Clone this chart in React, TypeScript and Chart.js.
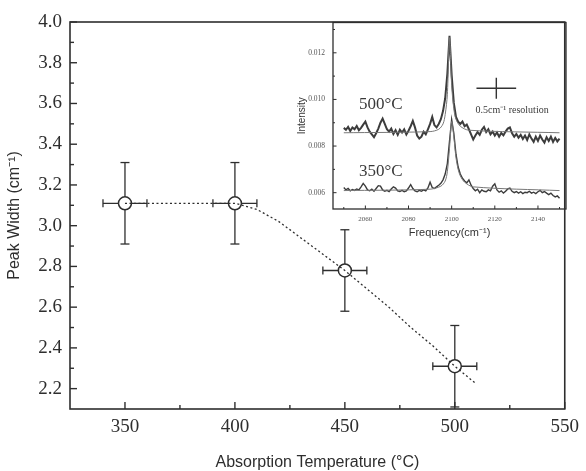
import React, { useEffect, useRef } from "react";
import { Chart, registerables } from "chart.js";

Chart.register(...registerables);

// ---------- main chart data ----------
const temperatures = [350, 400, 450, 500];
const peakWidths = [3.11, 3.11, 2.78, 2.31];
const widthErrors = [0.2, 0.2, 0.2, 0.2];
const temperatureErrors = [10, 10, 10, 10];
const fitTemps = [350, 400, 410, 420, 430, 440, 450, 460, 470, 480, 490, 500, 509];
const fitWidths = [3.11, 3.11, 3.08, 3.02, 2.94, 2.86, 2.78, 2.69, 2.6, 2.5, 2.41, 2.31, 2.23];
const xTickValues = [350, 400, 450, 500, 550];
const xMinorValues = [375, 425, 475, 525];
const yTickValues = [2.2, 2.4, 2.6, 2.8, 3.0, 3.2, 3.4, 3.6, 3.8, 4.0];
const yMinorValues = [2.3, 2.5, 2.7, 2.9, 3.1, 3.3, 3.5, 3.7, 3.9];

// ---------- inset data ----------
const frequencies = [
  2050, 2051, 2052, 2053, 2054, 2055, 2056, 2057, 2058, 2059,
  2060, 2061, 2062, 2063, 2064, 2065, 2066, 2067, 2068, 2069,
  2070, 2071, 2072, 2073, 2074, 2075, 2076, 2077, 2078, 2079,
  2080, 2081, 2082, 2083, 2084, 2085, 2086, 2087, 2088, 2089,
  2090, 2091, 2092, 2093, 2094, 2095, 2096, 2097, 2098, 2099,
  2100, 2101, 2102, 2103, 2104, 2105, 2106, 2107, 2108, 2109,
  2110, 2111, 2112, 2113, 2114, 2115, 2116, 2117, 2118, 2119,
  2120, 2121, 2122, 2123, 2124, 2125, 2126, 2127, 2128, 2129,
  2130, 2131, 2132, 2133, 2134, 2135, 2136, 2137, 2138, 2139,
  2140, 2141, 2142, 2143, 2144, 2145, 2146, 2147, 2148, 2149,
  2150,
];
const spectrum500 = [
  0.00878, 0.0087, 0.00882, 0.00865, 0.0088, 0.00872, 0.00886, 0.00868, 0.00878, 0.00892,
  0.00905, 0.0088, 0.00862, 0.0085, 0.00838, 0.00855, 0.00875, 0.009, 0.00918, 0.00895,
  0.00872, 0.00862, 0.00875, 0.00852, 0.00868, 0.00848, 0.0087, 0.00858, 0.00872, 0.0085,
  0.00866, 0.00885, 0.00908, 0.0088, 0.00845, 0.00832, 0.0084, 0.00862, 0.0085, 0.00872,
  0.00895, 0.00925, 0.0089, 0.0088, 0.00895, 0.00915, 0.0095, 0.01005, 0.0111, 0.01273,
  0.01105, 0.00985, 0.00925, 0.00905, 0.00895, 0.00905, 0.00885, 0.00892, 0.00872, 0.0085,
  0.00828, 0.00845, 0.0086, 0.00848, 0.0087, 0.00882, 0.0086, 0.00872, 0.0085, 0.00862,
  0.00845, 0.00858, 0.0084, 0.00856, 0.00846, 0.00862, 0.00875, 0.0088, 0.00855, 0.0084,
  0.00852, 0.00836, 0.00848, 0.0083, 0.00845, 0.00826, 0.0085, 0.00832, 0.00818, 0.0084,
  0.00822, 0.00845, 0.00828, 0.00815, 0.00838, 0.00822, 0.0084, 0.00818, 0.00835, 0.0082,
  0.00832,
];
const spectrum350 = [
  0.00622, 0.00612, 0.00618, 0.00608, 0.00614, 0.0061, 0.00616, 0.00612, 0.00625, 0.0064,
  0.00628, 0.00612, 0.00608, 0.00615, 0.00606, 0.00618, 0.0063, 0.00628, 0.00612, 0.00606,
  0.0061, 0.00605, 0.00616, 0.00625, 0.0062, 0.00608, 0.00605, 0.0061, 0.00604, 0.00608,
  0.0062, 0.00635, 0.00618, 0.00608, 0.00604, 0.0061, 0.00606, 0.00612, 0.00608, 0.0062,
  0.00645, 0.00622, 0.00618, 0.00625, 0.00632, 0.0064, 0.00655, 0.0068, 0.00725, 0.0082,
  0.00914, 0.00855, 0.00765, 0.0071, 0.0068, 0.00662, 0.0065, 0.00642, 0.00655, 0.00632,
  0.00618, 0.00608, 0.00615, 0.006, 0.00612, 0.00606, 0.00604, 0.00612, 0.00608, 0.00628,
  0.00638, 0.00612, 0.00602, 0.00608, 0.00598, 0.00606, 0.00616, 0.0062, 0.00606, 0.006,
  0.00605, 0.00598, 0.00604, 0.00596, 0.00602, 0.006, 0.00606, 0.00598, 0.00602, 0.00596,
  0.00604, 0.0061, 0.006, 0.00605, 0.00598, 0.00592, 0.00598, 0.00588, 0.00582, 0.00586,
  0.00576,
];
const fit500Freq = [2050, 2090, 2094, 2096, 2097, 2098, 2099, 2100, 2101, 2102, 2104, 2108, 2150];
const fit500 = [0.00857, 0.00862, 0.00872, 0.00895, 0.00935, 0.0102, 0.01265, 0.0106, 0.0096, 0.00915, 0.00885, 0.00868, 0.00857];
const fit350Freq = [2050, 2090, 2095, 2097, 2098, 2099, 2100, 2101, 2102, 2103, 2104, 2106, 2110, 2150];
const fit350 = [0.00609, 0.00615, 0.00628, 0.0065, 0.0069, 0.0079, 0.00905, 0.0084, 0.0075, 0.007, 0.00672, 0.00645, 0.00625, 0.00609];
const insetXTicks = [2060, 2080, 2100, 2120, 2140];
const insetXMinor = [2050, 2070, 2090, 2110, 2130, 2150];
const insetYTicks = [0.006, 0.008, 0.01, 0.012];
const insetYMinor = [0.007, 0.009, 0.011, 0.013];
const curveLabels = ["500°C", "350°C"];
const curveLabelFreq = [2057, 2057];
const curveLabelValue = [0.0098, 0.0069];
const resolutionCenter = { freq: 2120.7, value: 0.01048 };
const resolutionHalfWidth = 9.2;
const resolutionHalfHeight = 0.00045;
const resolutionText = "0.5cm⁻¹ resolution";

const INK = "#2e2e2e";

function drawInwardTicks(chart: any, xMajor: number[], xMinor: number[], yMajor: number[], yMinor: number[], majorLen: number, minorLen: number) {
  const { ctx, chartArea, scales } = chart;
  const x = scales.x;
  const y = scales.y;
  const seg = (x1: number, y1: number, x2: number, y2: number) => {
    ctx.beginPath();
    ctx.moveTo(x1, y1);
    ctx.lineTo(x2, y2);
    ctx.stroke();
  };
  xMajor.forEach((v) => {
    const p = x.getPixelForValue(v);
    seg(p, chartArea.bottom, p, chartArea.bottom - majorLen);
  });
  xMinor.forEach((v) => {
    const p = x.getPixelForValue(v);
    seg(p, chartArea.bottom, p, chartArea.bottom - minorLen);
  });
  yMajor.forEach((v) => {
    const p = y.getPixelForValue(v);
    seg(chartArea.left, p, chartArea.left + majorLen, p);
  });
  yMinor.forEach((v) => {
    const p = y.getPixelForValue(v);
    seg(chartArea.left, p, chartArea.left + minorLen, p);
  });
}

const mainDecor = {
  id: "mainDecor",
  beforeDatasetsDraw(chart: any) {
    const { ctx, chartArea, scales } = chart;
    const x = scales.x;
    const y = scales.y;
    ctx.save();
    ctx.strokeStyle = INK;
    ctx.lineWidth = 1.3;
    const seg = (x1: number, y1: number, x2: number, y2: number) => {
      ctx.beginPath();
      ctx.moveTo(x1, y1);
      ctx.lineTo(x2, y2);
      ctx.stroke();
    };
    temperatures.forEach((t, i) => {
      const px = x.getPixelForValue(t);
      const py = y.getPixelForValue(peakWidths[i]);
      const yTop = y.getPixelForValue(peakWidths[i] + widthErrors[i]);
      const yBot = Math.min(y.getPixelForValue(peakWidths[i] - widthErrors[i]), chartArea.bottom);
      const xL = x.getPixelForValue(t - temperatureErrors[i]);
      const xR = x.getPixelForValue(t + temperatureErrors[i]);
      seg(px, yTop, px, yBot);
      seg(px - 4.5, yTop, px + 4.5, yTop);
      seg(px - 4.5, yBot, px + 4.5, yBot);
      seg(xL, py, xR, py);
      seg(xL, py - 4, xL, py + 4);
      seg(xR, py - 4, xR, py + 4);
    });
    ctx.restore();
  },
  afterDraw(chart: any) {
    const { ctx, chartArea } = chart;
    ctx.save();
    ctx.strokeStyle = INK;
    ctx.lineWidth = 1.6;
    ctx.strokeRect(chartArea.left, chartArea.top, chartArea.right - chartArea.left, chartArea.bottom - chartArea.top);
    ctx.lineWidth = 1.4;
    drawInwardTicks(chart, xTickValues, xMinorValues, yTickValues, yMinorValues, 7, 4);
    ctx.restore();
  },
};

const insetDecor = {
  id: "insetDecor",
  afterDraw(chart: any) {
    const { ctx, chartArea, scales } = chart;
    const x = scales.x;
    const y = scales.y;
    ctx.save();
    ctx.strokeStyle = INK;
    ctx.lineWidth = 1.3;
    ctx.strokeRect(chartArea.left, chartArea.top, chartArea.right - chartArea.left, chartArea.bottom - chartArea.top);
    ctx.lineWidth = 1;
    drawInwardTicks(chart, insetXTicks, insetXMinor, insetYTicks, insetYMinor, 3.5, 2);
    // curve labels
    ctx.fillStyle = "#3a3a3a";
    ctx.font = '17px "Liberation Serif"';
    ctx.textAlign = "left";
    ctx.textBaseline = "middle";
    curveLabels.forEach((t, i) => {
      ctx.fillText(t, x.getPixelForValue(curveLabelFreq[i]), y.getPixelForValue(curveLabelValue[i]));
    });
    // resolution cross
    const cx = x.getPixelForValue(resolutionCenter.freq);
    const cy = y.getPixelForValue(resolutionCenter.value);
    const hx1 = x.getPixelForValue(resolutionCenter.freq - resolutionHalfWidth);
    const hx2 = x.getPixelForValue(resolutionCenter.freq + resolutionHalfWidth);
    const vy1 = y.getPixelForValue(resolutionCenter.value + resolutionHalfHeight);
    const vy2 = y.getPixelForValue(resolutionCenter.value - resolutionHalfHeight);
    ctx.strokeStyle = "#333";
    ctx.lineWidth = 1.4;
    ctx.beginPath();
    ctx.moveTo(hx1, cy);
    ctx.lineTo(hx2, cy);
    ctx.moveTo(cx, vy1);
    ctx.lineTo(cx, vy2);
    ctx.stroke();
    ctx.font = '10px "Liberation Serif"';
    ctx.textAlign = "center";
    ctx.fillText(resolutionText, x.getPixelForValue(2128), y.getPixelForValue(0.00952));
    ctx.restore();
  },
};

function pts(xs: number[], ys: number[]) {
  return xs.map((v, i) => ({ x: v, y: ys[i] }));
}

export default function App() {
  const mainRef = useRef<HTMLCanvasElement>(null);
  const insetRef = useRef<HTMLCanvasElement>(null);

  useEffect(() => {
    document.body.style.margin = "0";
    const main = new Chart(mainRef.current as HTMLCanvasElement, {
      type: "line",
      data: {
        datasets: [
          {
            data: pts(fitTemps, fitWidths),
            borderColor: INK,
            borderWidth: 1.3,
            borderDash: [2, 2.5],
            pointRadius: 0,
            fill: false,
            tension: 0,
            order: 0,
          },
          {
            data: pts(temperatures, peakWidths),
            showLine: false,
            pointRadius: 6.5,
            pointBackgroundColor: "#ffffff",
            pointBorderColor: INK,
            pointBorderWidth: 1.5,
            order: 1,
          },
        ],
      },
      options: {
        animation: false,
        responsive: false,
        events: [],
        layout: { padding: { left: 0, top: 22, right: 15, bottom: 0 } },
        plugins: { legend: { display: false }, tooltip: { enabled: false } },
        scales: {
          x: {
            type: "linear",
            min: 325,
            max: 550,
            afterBuildTicks: (s: any) => {
              s.ticks = xTickValues.map((v) => ({ value: v }));
            },
            afterFit: (s: any) => {
              s.height = 62;
            },
            grid: { display: false, drawTicks: false },
            border: { display: false },
            ticks: {
              autoSkip: false,
              maxRotation: 0,
              padding: 7,
              color: INK,
              font: { family: "Liberation Serif", size: 19 },
              callback: (v: any) => String(v),
            },
            title: {
              display: true,
              text: "Absorption Temperature (°C)",
              color: INK,
              font: { family: "Liberation Sans", size: 16, lineHeight: 1 },
              padding: { top: 0, bottom: 0 },
            },
          },
          y: {
            type: "linear",
            min: 2.1,
            max: 4.0,
            afterBuildTicks: (s: any) => {
              s.ticks = yTickValues.map((v) => ({ value: v }));
            },
            afterFit: (s: any) => {
              s.width = 70;
            },
            grid: { display: false, drawTicks: false },
            border: { display: false },
            ticks: {
              autoSkip: false,
              padding: 8,
              color: INK,
              font: { family: "Liberation Serif", size: 19 },
              callback: (v: any) => Number(v).toFixed(1),
            },
            title: {
              display: true,
              text: "Peak Width (cm⁻¹)",
              color: INK,
              font: { family: "Liberation Sans", size: 16, lineHeight: 1 },
              padding: { top: 7, bottom: 0 },
            },
          },
        },
      },
      plugins: [mainDecor],
    } as any);

    const inset = new Chart(insetRef.current as HTMLCanvasElement, {
      type: "line",
      data: {
        datasets: [
          { data: pts(fit500Freq, fit500), borderColor: "#777", borderWidth: 1, pointRadius: 0, tension: 0.3, order: 0 },
          { data: pts(fit350Freq, fit350), borderColor: "#777", borderWidth: 1, pointRadius: 0, tension: 0.3, order: 0 },
          { data: pts(frequencies, spectrum500), borderColor: "#3c3c3c", borderWidth: 2, pointRadius: 0, tension: 0, order: 1 },
          { data: pts(frequencies, spectrum350), borderColor: "#3c3c3c", borderWidth: 1.4, pointRadius: 0, tension: 0, order: 1 },
        ],
      },
      options: {
        animation: false,
        responsive: false,
        events: [],
        layout: { padding: { left: 0, top: 12, right: 10, bottom: 0 } },
        plugins: { legend: { display: false }, tooltip: { enabled: false } },
        scales: {
          x: {
            type: "linear",
            min: 2045,
            max: 2153,
            afterBuildTicks: (s: any) => {
              s.ticks = insetXTicks.map((v) => ({ value: v }));
            },
            afterFit: (s: any) => {
              s.height = 37;
            },
            grid: { display: false, drawTicks: false },
            border: { display: false },
            ticks: {
              autoSkip: false,
              maxRotation: 0,
              padding: 6,
              color: "#555",
              font: { family: "Liberation Serif", size: 7 },
              callback: (v: any) => String(v),
            },
            title: {
              display: true,
              text: "Frequency(cm⁻¹)",
              color: "#333",
              font: { family: "Liberation Sans", size: 11, lineHeight: 1 },
              padding: { top: 0, bottom: 8 },
            },
          },
          y: {
            type: "linear",
            min: 0.0053,
            max: 0.0133,
            afterBuildTicks: (s: any) => {
              s.ticks = insetYTicks.map((v) => ({ value: v }));
            },
            afterFit: (s: any) => {
              s.width = 43;
            },
            grid: { display: false, drawTicks: false },
            border: { display: false },
            ticks: {
              autoSkip: false,
              padding: 8,
              color: "#555",
              font: { family: "Liberation Serif", size: 7.5 },
              callback: (v: any) => Number(v).toFixed(3),
            },
            title: {
              display: true,
              text: "Intensity",
              color: "#333",
              font: { family: "Liberation Sans", size: 10, lineHeight: 1 },
              padding: { top: 7, bottom: 0 },
            },
          },
        },
      },
      plugins: [insetDecor],
    } as any);

    return () => {
      main.destroy();
      inset.destroy();
    };
  }, []);

  return (
    <div style={{ position: "relative", width: 586, height: 471, background: "#fff" }}>
      <canvas ref={mainRef} width={586} height={471} style={{ position: "absolute", left: 0, top: 0 }} />
      <canvas ref={insetRef} width={286} height={236} style={{ position: "absolute", left: 290, top: 10 }} />
    </div>
  );
}
